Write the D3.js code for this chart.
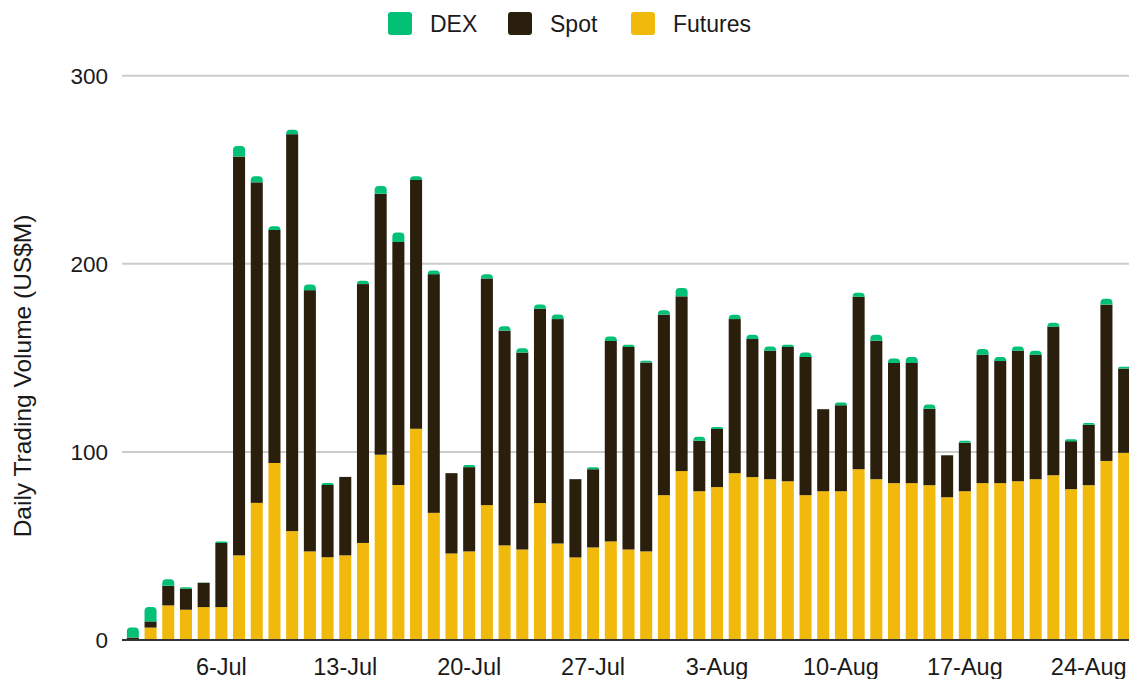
<!DOCTYPE html>
<html>
<head>
<meta charset="utf-8">
<script src="https://cdn.jsdelivr.net/npm/d3@7"></script>
<style>
  body { margin: 0; background: #fff; }
  svg { display: block; font-family: "Liberation Sans", Arial, sans-serif; }
</style>
</head>
<body>
<div id="chart"></div>
<script>
// Daily volumes (US$M), 1-Jul .. 26-Aug
const dates = [
  "1-Jul","2-Jul","3-Jul","4-Jul","5-Jul","6-Jul","7-Jul","8-Jul","9-Jul","10-Jul",
  "11-Jul","12-Jul","13-Jul","14-Jul","15-Jul","16-Jul","17-Jul","18-Jul","19-Jul","20-Jul",
  "21-Jul","22-Jul","23-Jul","24-Jul","25-Jul","26-Jul","27-Jul","28-Jul","29-Jul","30-Jul",
  "31-Jul","1-Aug","2-Aug","3-Aug","4-Aug","5-Aug","6-Aug","7-Aug","8-Aug","9-Aug",
  "10-Aug","11-Aug","12-Aug","13-Aug","14-Aug","15-Aug","16-Aug","17-Aug","18-Aug","19-Aug",
  "20-Aug","21-Aug","22-Aug","23-Aug","24-Aug","25-Aug","26-Aug"
];

const futures = [
  0.4, 6.6, 18.4, 16.1, 17.5, 17.5, 45, 72.9, 94.1, 57.9,
  47.1, 44, 45, 51.6, 98.5, 82.4, 112.3, 67.6, 46, 47.1,
  71.7, 50.3, 48.1, 72.8, 51.3, 43.9, 49.2, 52.4, 48.1, 47.1,
  77, 89.8, 79.1, 81.3, 88.7, 86.6, 85.5, 84.4, 77, 79.1,
  79.1, 90.8, 85.5, 83.4, 83.4, 82.3, 75.9, 79.1, 83.4, 83.4,
  84.4, 85.5, 87.6, 80.2, 82.3, 95.2, 99.5
];

const spot = [
  0.9, 3.3, 10.4, 11.2, 12.9, 34.1, 212, 170.4, 123.9, 211,
  138.9, 38.4, 41.7, 137.6, 138.7, 129.2, 132.3, 126.9, 42.7, 44.8,
  120.5, 114.2, 104.7, 103.3, 119.3, 41.6, 41.6, 106.6, 107.7, 100.4,
  96, 92.9, 26.8, 30.9, 81.9, 73.4, 68.3, 71.4, 73.5, 43.6,
  45.7, 91.7, 73.6, 63.9, 63.9, 40.6, 22.3, 25.7, 68.3, 64.9,
  69.4, 66.2, 79, 25.5, 32.1, 83.1, 44.8
];

const dex = [
  5.3, 7.6, 3.5, 0.8, 0.2, 0.8, 5.6, 3.2, 2, 2.3,
  3, 1.1, 0, 1.8, 4.2, 5.1, 1.9, 1.9, 0, 1.2,
  2.2, 2.3, 2.3, 2.3, 2.5, 0, 1.1, 2.3, 1.2, 1,
  2.3, 4.4, 2.1, 1.1, 2.3, 2.3, 2.2, 1.2, 2.3, 0,
  1.4, 2.1, 3.2, 2.3, 3.2, 2.3, 0, 1.1, 3, 2.2,
  2.2, 2.1, 2.1, 1, 1, 3.1, 1
];

const tickLabels = ["6-Jul","13-Jul","20-Jul","27-Jul","3-Aug","10-Aug","17-Aug","24-Aug"];
const yTicks = [0, 100, 200, 300];

const keys = ["futures", "spot", "dex"];
const legendItems = [
  { key: "dex", label: "DEX" },
  { key: "spot", label: "Spot" },
  { key: "futures", label: "Futures" }
];

const colors = { dex: "#02c076", spot: "#2a1f0d", futures: "#f0b90b" };

const data = dates.map((d, i) => ({ date: d, futures: futures[i], spot: spot[i], dex: dex[i] }));

const width = 1129, height = 679;
const svg = d3.select("#chart").append("svg")
  .attr("width", width)
  .attr("height", height);

const x = d3.scaleBand()
  .domain(dates)
  .range([124, 1133])
  .paddingInner(0.32)
  .paddingOuter(0.16);

const y = d3.scaleLinear()
  .domain([0, 300])
  .range([640, 75.7]);

// gridlines
svg.append("g")
  .selectAll("line")
  .data(yTicks.filter(t => t > 0))
  .join("line")
  .attr("x1", 122)
  .attr("x2", width)
  .attr("y1", d => y(d))
  .attr("y2", d => y(d))
  .attr("stroke", "#cccccc")
  .attr("stroke-width", 2);

// y tick labels
svg.append("g")
  .selectAll("text")
  .data(yTicks)
  .join("text")
  .attr("x", 108)
  .attr("y", d => y(d))
  .attr("dy", "0.36em")
  .attr("text-anchor", "end")
  .attr("font-size", 22.5)
  .attr("fill", "#1a1a1a")
  .text(d => d);

// stacked bars
const series = d3.stack().keys(keys)(data);

function topRounded(x0, y0, w, h, r) {
  r = Math.min(r, h, w / 2);
  return `M${x0},${y0 + h}V${y0 + r}Q${x0},${y0} ${x0 + r},${y0}` +
         `H${x0 + w - r}Q${x0 + w},${y0} ${x0 + w},${y0 + r}V${y0 + h}Z`;
}

series.forEach(s => {
  const g = svg.append("g").attr("fill", colors[s.key]);
  s.forEach(seg => {
    const v = seg[1] - seg[0];
    if (v <= 0) return;
    const x0 = x(seg.data.date);
    const yTop = y(seg[1]);
    const h = y(seg[0]) - yTop;
    if (s.key === "dex") {
      g.append("path").attr("d", topRounded(x0, yTop, x.bandwidth(), h, 4));
    } else {
      g.append("rect")
        .attr("x", x0)
        .attr("y", yTop)
        .attr("width", x.bandwidth())
        .attr("height", h);
    }
  });
});

// baseline
svg.append("line")
  .attr("x1", 122)
  .attr("x2", width)
  .attr("y1", y(0))
  .attr("y2", y(0))
  .attr("stroke", "#333")
  .attr("stroke-width", 2);

// x tick labels
svg.append("g")
  .selectAll("text")
  .data(tickLabels)
  .join("text")
  .attr("x", d => x(d) + x.bandwidth() / 2)
  .attr("y", 675)
  .attr("text-anchor", "middle")
  .attr("font-size", 23.5)
  .attr("fill", "#1a1a1a")
  .text(d => d);

// y axis title
svg.append("text")
  .attr("transform", "translate(31,376) rotate(-90)")
  .attr("text-anchor", "middle")
  .attr("font-size", 24.5)
  .attr("fill", "#1a1a1a")
  .text("Daily Trading Volume (US$M)");

// legend
const legendPos = [
  { sx: 388, tx: 430 },
  { sx: 508, tx: 550 },
  { sx: 631, tx: 673 }
];
legendItems.forEach((item, i) => {
  svg.append("rect")
    .attr("x", legendPos[i].sx)
    .attr("y", 12)
    .attr("width", 24)
    .attr("height", 23)
    .attr("rx", 3)
    .attr("fill", colors[item.key]);
  svg.append("text")
    .attr("x", legendPos[i].tx)
    .attr("y", 32)
    .attr("font-size", 23)
    .attr("fill", "#1a1a1a")
    .text(item.label);
});
</script>
</body>
</html>
